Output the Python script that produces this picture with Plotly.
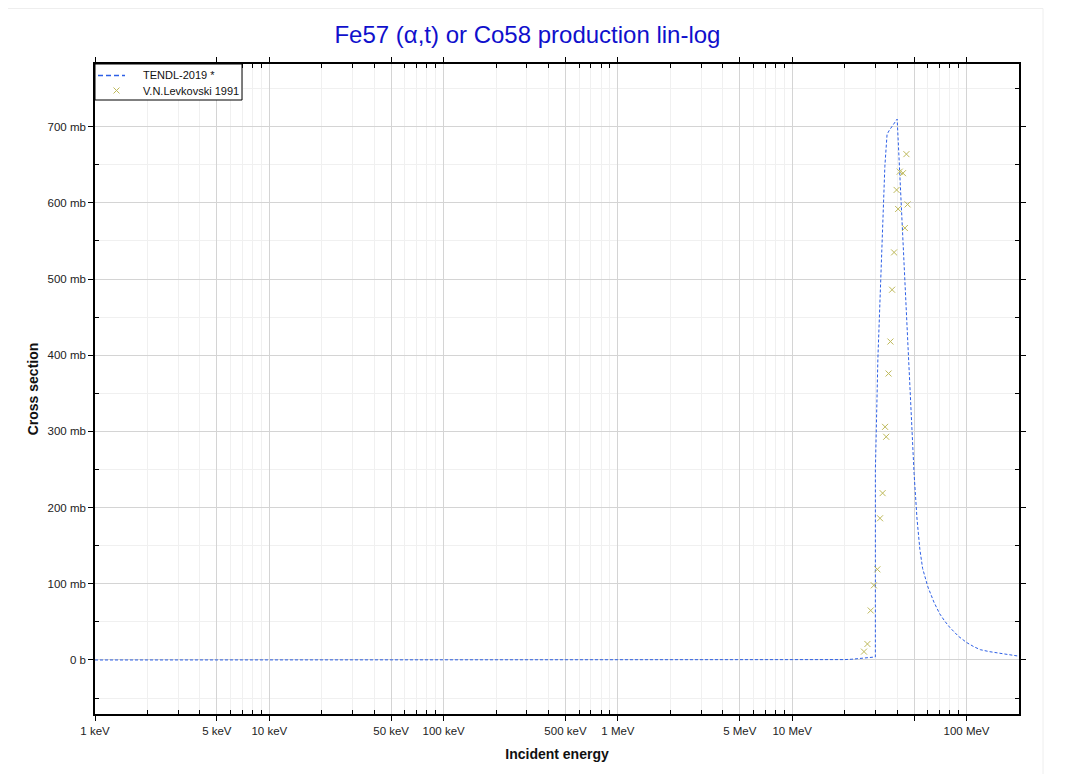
import plotly.graph_objects as go

# TENDL-2019 curve (energy in MeV, cross section in mb)
tendl_E = [0.001, 0.01, 0.1, 1.0, 10.0, 15.0, 18.0, 20.0, 22.0, 25.0, 28.0, 29.99,
           30.0, 30.5, 31.0, 32.0, 33.0, 34.0, 35.0, 36.0, 40.0,
           50.0, 52.0, 54.0, 56.0, 58.0, 60.0, 65.0, 70.0, 75.0, 80.0, 90.0, 100.0,
           110.0, 120.0, 135.0, 150.0, 175.0, 200.0]
tendl_xs = [0.0, 0.0, 0.0, 0.0, 0.0, 0.0, 0.0, 0.5, 1.0, 2.3, 3.3, 4.0,
            250.0, 350.0, 395.0, 482.0, 580.0, 648.0, 690.0, 695.0, 710.0,
            245.0, 185.0, 145.0, 120.0, 106.0, 96.0, 76.0, 61.0, 51.0, 43.0, 31.0, 23.0,
            17.5, 13.5, 11.0, 9.0, 7.0, 5.0]

# V.N.Levkovski 1991 measurements
exp_E = [45.2, 41.4, 43.2, 39.7, 40.5, 45.9, 44.3, 38.4, 37.4,
         36.6, 35.7, 34.1, 34.6, 33.0, 31.9, 30.8, 29.4, 28.2, 27.0, 25.8]
exp_xs = [664, 641, 639, 617, 592, 598, 567, 535, 486,
          418, 376, 306, 293, 219, 186, 119, 98, 65, 21, 11]

series_names = ["TENDL-2019 *", "V.N.Levkovski 1991"]

# axis ticks
x_tickvals = [0.001, 0.005, 0.01, 0.05, 0.1, 0.5, 1, 5, 10, 50, 100]
x_ticktext = ["1 keV", "5 keV", "10 keV", "50 keV", "100 keV", "500 keV",
              "1 MeV", "5 MeV", "10 MeV", "", "100 MeV"]
x_minor = [m * 10 ** d for d in range(-3, 3) for m in (2, 3, 4, 6, 7, 8, 9)
           if m * 10 ** d <= 200]
y_tickvals = [0, 100, 200, 300, 400, 500, 600, 700]
y_ticktext = ["0 b", "100 mb", "200 mb", "300 mb", "400 mb", "500 mb", "600 mb", "700 mb"]
y_minor = [-50, 50, 150, 250, 350, 450, 550, 650, 750]

LINE_COLOR = "rgb(45,95,230)"
MARK_COLOR = "rgb(190,185,90)"
font_family = "Liberation Sans, Arial, sans-serif"

fig = go.Figure()
fig.add_trace(go.Scatter(
    x=tendl_E, y=tendl_xs, mode="lines", name=series_names[0], showlegend=False,
    line=dict(color=LINE_COLOR, width=1, dash="3px,2px"),
))
fig.add_trace(go.Scatter(
    x=exp_E, y=exp_xs, mode="markers", name=series_names[1], showlegend=False,
    marker=dict(symbol="x-thin", size=6, line=dict(color=MARK_COLOR, width=1),
                color=MARK_COLOR),
))

# plot area in figure px (figure sits at an 8px body offset in the page)
PL, PR, PT, PB = 87, 1011, 56, 706
PW, PH = PR - PL, PB - PT


def px(xf):
    return (xf - PL) / PW


def py(yf):
    return (PB - yf) / PH


# compact legend box (figure px coordinates)
lg_x0, lg_x1, lg_y0, lg_y1 = 87, 234, 56, 92
row1, row2 = 67.5, 82.5
shapes = [
    dict(type="rect", xref="paper", yref="paper",
         x0=px(-1), x1=px(1035), y0=py(780), y1=py(0.5),
         line=dict(color="#eeeeee", width=1), layer="below"),
    dict(type="rect", xref="paper", yref="paper",
         x0=px(lg_x0), x1=px(lg_x1), y0=py(lg_y1), y1=py(lg_y0),
         line=dict(color="black", width=1), fillcolor="white", layer="above"),
    dict(type="line", xref="paper", yref="paper",
         x0=px(90), x1=px(117), y0=py(row1), y1=py(row1),
         line=dict(color=LINE_COLOR, width=1.5, dash="5px,3px")),
    dict(type="line", xref="paper", yref="paper",
         x0=px(105.5), x1=px(111.5), y0=py(row2 - 3), y1=py(row2 + 3),
         line=dict(color=MARK_COLOR, width=1)),
    dict(type="line", xref="paper", yref="paper",
         x0=px(105.5), x1=px(111.5), y0=py(row2 + 3), y1=py(row2 - 3),
         line=dict(color=MARK_COLOR, width=1)),
]
annotations = [
    dict(xref="paper", yref="paper", x=px(133), y=py(row1), text=series_names[0],
         showarrow=False, xanchor="left", yanchor="middle",
         font=dict(family=font_family, size=11, color="#111")),
    dict(xref="paper", yref="paper", x=px(133), y=py(row2), text=series_names[1],
         showarrow=False, xanchor="left", yanchor="middle",
         font=dict(family=font_family, size=11, color="#111")),
]

fig.update_layout(
    width=1059, height=766,
    margin=dict(l=PL, r=1059 - PR, t=PT, b=766 - PB),
    paper_bgcolor="white", plot_bgcolor="white",
    font=dict(family=font_family, size=11.5, color="#222"),
    title=dict(text="Fe57 (α,t) or Co58 production lin-log", x=0.4905, xanchor="center",
               y=1 - 27 / 766, yanchor="middle",
               font=dict(family=font_family, size=24, color="#1010cc")),
    showlegend=False,
    shapes=shapes,
    annotations=annotations,
)

fig.update_xaxes(
    type="log", range=[-3, 2.30103],
    tickmode="array", tickvals=x_tickvals, ticktext=x_ticktext,
    tickfont=dict(size=11.5),
    ticks="outside", ticklen=5, tickcolor="black",
    showline=True, linecolor="black", linewidth=1.5, mirror="allticks",
    showgrid=True, gridcolor="#d4d4d4", gridwidth=1,
    minor=dict(tickmode="array", tickvals=x_minor, ticks="inside", ticklen=4,
               tickcolor="black", showgrid=True, gridcolor="#f0f0f0"),
    zeroline=False,
    title=dict(text="<b>Incident energy</b>", standoff=14,
               font=dict(family=font_family, size=14, color="#111")),
)
fig.update_yaxes(
    range=[-70.9, 782.3],
    tickmode="array", tickvals=y_tickvals, ticktext=y_ticktext,
    tickfont=dict(size=11.5),
    ticks="outside", ticklen=5, tickcolor="black",
    showline=True, linecolor="black", linewidth=1.5, mirror="allticks",
    showgrid=True, gridcolor="#d4d4d4", gridwidth=1,
    minor=dict(tickmode="array", tickvals=y_minor, ticks="inside", ticklen=4,
               tickcolor="black", showgrid=True, gridcolor="#f0f0f0"),
    zeroline=False,
    title=dict(text="<b>Cross section</b>", standoff=6,
               font=dict(family=font_family, size=14, color="#111")),
)

fig.write_html("out.html")
